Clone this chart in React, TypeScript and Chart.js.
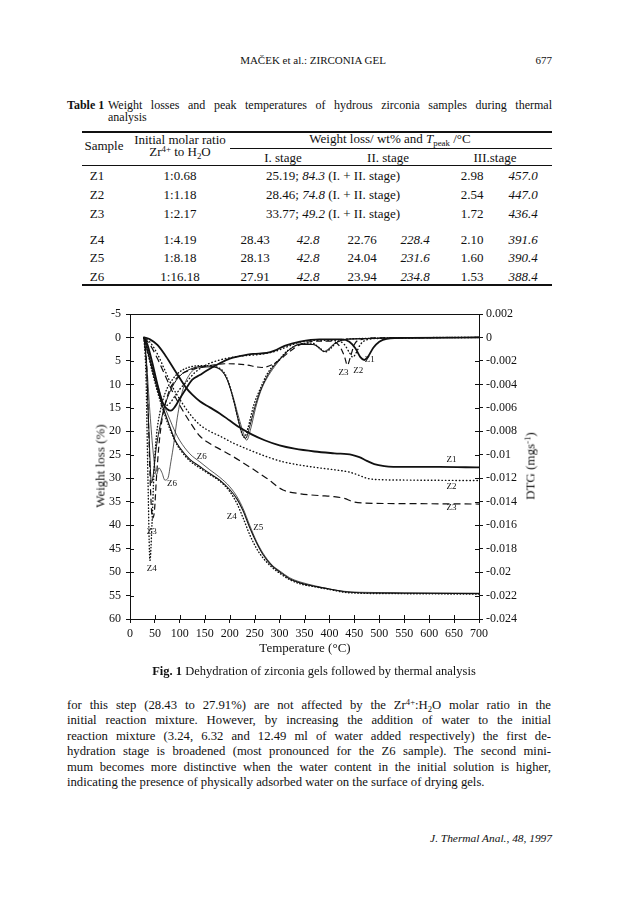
import React, { useEffect, useRef } from 'react';
import { Chart, registerables } from 'chart.js';
Chart.register(...registerables);

type Pt = [number, number];

const FONT = "'Liberation Serif', 'Times New Roman', Times, serif";
const INK = '#111111';

// ---- axis ranges ----
const T_MIN = 0, T_MAX = 700, T_STEP = 50;
const W_MIN = -5, W_MAX = 60, W_STEP = 5;
const D_MIN = -0.024, D_MAX = 0.002, D_STEP = 0.002;

// ---- TG curves: [temperature °C, weight loss %] ----
const Z1_TG: Pt[] = [[28,0],[40,0.4],[55,1.6],[70,3.7],[85,6.2],[100,8.7],[113,10.8],[125,12.2],[140,13.6],[160,14.9],[180,16.2],[200,17.7],[220,19.2],[245,20.7],[270,21.9],[300,23.0],[330,23.7],[370,24.3],[410,24.7],[445,25.0],[460,25.5],[475,26.3],[490,27.0],[510,27.4],[550,27.6],[620,27.6],[700,27.7]];
const Z2_TG: Pt[] = [[28,0],[40,1],[55,3.5],[70,7],[85,10.5],[100,13.2],[120,16.3],[140,18.6],[160,20],[180,21],[207,22.5],[240,24],[274,25.4],[307,26.5],[341,27.2],[380,27.8],[410,28.2],[440,28.7],[460,29.4],[475,30],[500,30.3],[560,30.4],[700,30.5]];
const Z3_TG: Pt[] = [[28,0],[40,1.5],[55,4.5],[70,8],[85,11.5],[100,14.5],[120,18],[140,21],[160,22.6],[180,23.8],[207,25.4],[240,27.6],[274,30],[307,32.5],[341,33.3],[380,33.7],[407,33.9],[430,34.3],[447,35],[470,35.3],[540,35.4],[700,35.5]];
const Z4_TG: Pt[] = [[28,0],[35,3],[45,7.5],[55,11.5],[65,15],[80,19.5],[90,22],[100,23.8],[120,26.3],[140,27.8],[160,29.2],[180,30.6],[200,32.8],[215,35.5],[227,38.5],[240,42],[254,45],[267,47],[285,49],[301,50.3],[320,51.6],[341,52.5],[374,53.2],[400,53.7],[430,54.3],[460,54.5],[550,54.6],[700,54.7]];
const Z5_TG: Pt[] = [[28,0],[35,2.8],[45,7],[55,11],[65,14.5],[80,19],[90,21.8],[100,23.5],[120,26],[140,27.5],[160,29],[180,30.4],[200,32.4],[215,34.5],[227,37],[240,40.5],[254,43.8],[267,46.3],[285,48.7],[301,50],[320,51.4],[341,52.3],[374,53.1],[400,53.6],[430,54.2],[460,54.4],[550,54.5],[700,54.6]];
const Z6_TG: Pt[] = [[28,0],[35,2.5],[45,6.5],[55,10],[65,13.5],[80,17.5],[90,20],[100,22],[120,24.8],[140,26.5],[160,28.2],[180,29.8],[200,31.8],[215,34],[227,36.5],[240,40],[254,43.5],[267,46],[285,48.5],[301,49.8],[320,51.2],[341,52.1],[374,53],[400,53.6],[430,54.1],[460,54.3],[550,54.4],[700,54.5]];

// ---- DTG curves: [temperature °C, DTG mg s^-1] ----
const Z1_DTG: Pt[] = [[28,0],[35,-0.0006],[45,-0.0022],[55,-0.004],[65,-0.00552],[75,-0.00612],[82,-0.00624],[90,-0.00592],[100,-0.0052],[113,-0.00432],[125,-0.0036],[140,-0.0032],[155,-0.0028],[180,-0.0022],[200,-0.0018],[220,-0.0016],[247,-0.0014],[274,-0.00132],[290,-0.00112],[310,-0.00072],[341,-0.00036],[380,-0.00016],[425,-0.00016],[440,-0.00036],[452,-0.00092],[462,-0.00168],[470,-0.00192],[478,-0.0016],[488,-0.00088],[500,-0.00036],[515,-0.00012],[560,-0.00004],[700,0]];
const Z2_DTG: Pt[] = [[28,0],[35,-0.0008],[45,-0.0026],[55,-0.0044],[65,-0.00552],[72,-0.0058],[80,-0.0056],[90,-0.005],[100,-0.0044],[113,-0.0038],[130,-0.003],[150,-0.0024],[180,-0.00192],[220,-0.0016],[260,-0.00144],[290,-0.0012],[315,-0.0008],[341,-0.0004],[380,-0.00024],[415,-0.00028],[430,-0.0006],[440,-0.00128],[447,-0.00168],[454,-0.00128],[462,-0.0006],[475,-0.0002],[500,-0.00008],[700,0]];
const Z3_DTG: Pt[] = [[28,0],[33,-0.002],[37,-0.0072],[41,-0.0128],[45,-0.0154],[49,-0.0148],[53,-0.012],[58,-0.0092],[65,-0.0068],[75,-0.005],[88,-0.0038],[100,-0.0032],[120,-0.0028],[150,-0.00248],[190,-0.00224],[230,-0.00232],[265,-0.00256],[285,-0.00232],[300,-0.00192],[320,-0.0012],[340,-0.00064],[370,-0.00032],[405,-0.00032],[420,-0.00072],[430,-0.0016],[436,-0.00236],[442,-0.00168],[450,-0.0006],[465,-0.00016],[500,-0.00004],[700,0]];
const Z4_DTG: Pt[] = [[28,0],[32,-0.0032],[36,-0.012],[40,-0.019],[44,-0.016],[48,-0.0116],[53,-0.0084],[60,-0.0064],[70,-0.0048],[85,-0.0036],[100,-0.00292],[120,-0.00252],[150,-0.0024],[180,-0.00264],[194,-0.0034],[207,-0.0052],[216,-0.0068],[224,-0.00812],[229,-0.00852],[236,-0.0078],[248,-0.0058],[261,-0.0044],[274,-0.0032],[287,-0.0024],[301,-0.0018],[314,-0.0012],[341,-0.00056],[365,-0.00048],[380,-0.00088],[392,-0.00124],[402,-0.00096],[415,-0.0004],[440,-0.00012],[700,0]];
const Z5_DTG: Pt[] = [[28,0],[33,-0.0024],[38,-0.008],[43,-0.0124],[47,-0.0116],[52,-0.0096],[60,-0.0076],[70,-0.0058],[85,-0.0042],[100,-0.00328],[120,-0.00272],[150,-0.00244],[180,-0.00272],[195,-0.0036],[208,-0.0054],[218,-0.0072],[226,-0.00832],[232,-0.0086],[240,-0.0076],[250,-0.006],[261,-0.0046],[274,-0.0034],[287,-0.00252],[301,-0.00184],[314,-0.00124],[341,-0.0006],[368,-0.0006],[382,-0.00096],[390,-0.0012],[398,-0.00104],[412,-0.00048],[440,-0.00012],[700,0]];
const Z6_DTG: Pt[] = [[28,0],[33,-0.002],[40,-0.0064],[47,-0.01],[53,-0.01172],[58,-0.01112],[64,-0.01152],[70,-0.01216],[76,-0.012],[82,-0.0106],[88,-0.009],[95,-0.0068],[105,-0.0046],[120,-0.00312],[140,-0.00256],[170,-0.00252],[190,-0.0032],[205,-0.0048],[218,-0.0068],[228,-0.0082],[234,-0.00876],[242,-0.0078],[252,-0.006],[262,-0.0046],[274,-0.00352],[290,-0.00248],[305,-0.00168],[320,-0.00104],[345,-0.00052],[370,-0.00064],[382,-0.00104],[388,-0.0012],[396,-0.00104],[410,-0.00052],[440,-0.00016],[700,0]];

// ---- in-plot curve labels: text, temperature, weight-loss axis value ----
const CURVE_LABEL_TEXT = ['Z1','Z3','Z2','Z1','Z2','Z3','Z6','Z6','Z4','Z5','Z3','Z4'];
const CURVE_LABEL_T = [481, 428, 458, 645, 645, 645, 144, 84, 204, 257, 43.5, 43.5];
const CURVE_LABEL_W = [4.8, 7.6, 7.1, 26.1, 31.8, 36.3, 25.4, 31.1, 38.1, 40.5, 41.4, 49.2];

// ---- table ----
const SAMPLES = ['Z1','Z2','Z3','Z4','Z5','Z6'];
const RATIOS = ['1:0.68','1:1.18','1:2.17','1:4.19','1:8.18','1:16.18'];
const COMBINED_LOSS = ['25.19','28.46','33.77'];
const COMBINED_T = ['84.3','74.8','49.2'];
const STAGE1_LOSS = ['28.43','28.13','27.91'];
const STAGE1_T = ['42.8','42.8','42.8'];
const STAGE2_LOSS = ['22.76','24.04','23.94'];
const STAGE2_T = ['228.4','231.6','234.8'];
const STAGE3_LOSS = ['2.98','2.54','1.72','2.10','1.60','1.53'];
const STAGE3_T = ['457.0','447.0','436.4','391.6','390.4','388.4'];

const PARAGRAPH = [
  'for this step (28.43 to 27.91%) are not affected by the Zr$:H#O molar ratio in the',
  'initial reaction mixture. However, by increasing the addition of water to the initial',
  'reaction mixture (3.24, 6.32 and 12.49 ml of water added respectively) the first de-',
  'hydration stage is broadened (most pronounced for the Z6 sample). The second mini-',
  'mum becomes more distinctive when the water content in the initial solution is higher,',
  'indicating the presence of physically adsorbed water on the surface of drying gels.',
];

const Sup = ({ children }: any) => (
  <span style={{ fontSize: '0.68em', verticalAlign: '0.5em', lineHeight: 0 }}>{children}</span>
);
const Sub = ({ children }: any) => (
  <span style={{ fontSize: '0.68em', verticalAlign: '-0.3em', lineHeight: 0 }}>{children}</span>
);

const Txt = ({ x, y, size = 11, align = 'left', style = {}, children }: any) => {
  const lh = Math.round(size * 1.25);
  const tf = align === 'center' ? 'translateX(-50%)' : align === 'right' ? 'translateX(-100%)' : 'none';
  return (
    <div style={{ position: 'absolute', left: x, top: y - lh / 2, fontSize: size, lineHeight: lh + 'px', whiteSpace: 'nowrap', transform: tf, ...style }}>
      {children}
    </div>
  );
};

const Just = ({ x, y, w, size = 13, last = false, children }: any) => {
  const lh = Math.round(size * 1.2);
  return (
    <div style={{ position: 'absolute', left: x, top: y - lh / 2, width: w, fontSize: size, lineHeight: lh + 'px', whiteSpace: 'nowrap', textAlign: 'justify', textAlignLast: last ? 'left' : 'justify' } as any}>
      {children}
    </div>
  );
};

const Rule = ({ x1, x2, y, h = 1 }: any) => (
  <div style={{ position: 'absolute', left: x1, top: y - h / 2, width: x2 - x1, height: h, background: INK }} />
);

const renderPara = (s: string) => {
  const parts: any[] = [];
  let buf = '';
  for (const ch of s) {
    if (ch === '$') { parts.push(buf); buf = ''; parts.push(<Sup key={parts.length}>4+</Sup>); }
    else if (ch === '#') { parts.push(buf); buf = ''; parts.push(<Sub key={parts.length}>2</Sub>); }
    else buf += ch;
  }
  parts.push(buf);
  return parts;
};

const TGChart = () => {
  const ref = useRef<HTMLCanvasElement>(null);
  useEffect(() => {
    const SERIES = [
      { pts: Z1_TG, axis: 'y', dash: [], width: 1.8 },
      { pts: Z2_TG, axis: 'y', dash: [0.5, 3], width: 1.4 },
      { pts: Z3_TG, axis: 'y', dash: [7, 4], width: 1.2 },
      { pts: Z4_TG, axis: 'y', dash: [0.5, 2.6], width: 1.4 },
      { pts: Z5_TG, axis: 'y', dash: [], width: 1.1 },
      { pts: Z6_TG, axis: 'y', dash: [], width: 0.7 },
      { pts: Z1_DTG, axis: 'y1', dash: [], width: 1.8 },
      { pts: Z2_DTG, axis: 'y1', dash: [0.5, 3], width: 1.4 },
      { pts: Z3_DTG, axis: 'y1', dash: [6, 3.5], width: 1.2 },
      { pts: Z4_DTG, axis: 'y1', dash: [0.5, 2.6], width: 1.4 },
      { pts: Z5_DTG, axis: 'y1', dash: [], width: 1.0 },
      { pts: Z6_DTG, axis: 'y1', dash: [], width: 0.7 },
    ];
    const frame = {
      id: 'frame',
      afterDraw(chart: any) {
        const { ctx, chartArea, scales } = chart;
        const { left, right, top, bottom } = chartArea;
        ctx.save();
        ctx.strokeStyle = INK;
        ctx.lineWidth = 1;
        ctx.beginPath();
        ctx.moveTo(left, top + 0.5);
        ctx.lineTo(right, top + 0.5);
        scales.x.ticks.forEach((t: any) => {
          const px = Math.round(scales.x.getPixelForValue(t.value)) + 0.5;
          ctx.moveTo(px, bottom); ctx.lineTo(px, bottom - 4);
        });
        scales.y.ticks.forEach((t: any) => {
          const py = Math.round(scales.y.getPixelForValue(t.value)) + 0.5;
          ctx.moveTo(left, py); ctx.lineTo(left + 4, py);
        });
        scales.y1.ticks.forEach((t: any) => {
          const py = Math.round(scales.y1.getPixelForValue(t.value)) + 0.5;
          ctx.moveTo(right, py); ctx.lineTo(right - 4, py);
        });
        ctx.stroke();
        ctx.restore();
      },
      afterDatasetsDraw(chart: any) {
        const { ctx, scales } = chart;
        ctx.save();
        ctx.fillStyle = INK;
        ctx.font = `9px ${FONT}`;
        ctx.textAlign = 'center';
        ctx.textBaseline = 'middle';
        CURVE_LABEL_TEXT.forEach((txt, i) => {
          ctx.fillText(txt, scales.x.getPixelForValue(CURVE_LABEL_T[i]), scales.y.getPixelForValue(CURVE_LABEL_W[i]));
        });
        ctx.restore();
      },
    };
    const tickFont = { family: FONT, size: 12 };
    const chart = new Chart(ref.current as HTMLCanvasElement, {
      type: 'line',
      data: {
        datasets: SERIES.map((s) => ({
          data: s.pts.map(([x, y]) => ({ x, y })),
          yAxisID: s.axis,
          borderColor: INK,
          borderWidth: s.width,
          borderDash: s.dash,
          borderCapStyle: s.dash.length && s.dash[0] < 1 ? 'round' : 'butt',
          pointRadius: 0,
          fill: false,
          cubicInterpolationMode: 'monotone',
        })) as any,
      },
      options: {
        animation: false,
        responsive: false,
        events: [],
        layout: { padding: { top: 14, left: 0, right: 0, bottom: 0 } },
        plugins: { legend: { display: false }, tooltip: { enabled: false } },
        scales: {
          x: {
            type: 'linear', min: T_MIN, max: T_MAX,
            ticks: { stepSize: T_STEP, autoSkip: false, maxRotation: 0, color: INK, font: tickFont, padding: 4 },
            grid: { drawOnChartArea: false, tickLength: 4, color: INK },
            border: { color: INK, width: 1 },
            afterFit: (s: any) => { s.height = 26; },
          },
          y: {
            type: 'linear', position: 'left', reverse: true, min: W_MIN, max: W_MAX,
            ticks: { stepSize: W_STEP, autoSkip: false, color: INK, font: tickFont, padding: 5 },
            grid: { drawOnChartArea: false, tickLength: 4, color: INK },
            border: { color: INK, width: 1 },
            afterFit: (s: any) => { s.width = 70; },
          },
          y1: {
            type: 'linear', position: 'right', min: D_MIN, max: D_MAX,
            ticks: {
              stepSize: D_STEP, autoSkip: false, color: INK, font: tickFont, padding: 3,
              callback: (v: any) => String(+Number(v).toFixed(3)),
            },
            grid: { drawOnChartArea: false, tickLength: 4, color: INK },
            border: { color: INK, width: 1 },
            afterFit: (s: any) => { s.width = 60; },
          },
        },
      } as any,
      plugins: [frame],
    });
    return () => chart.destroy();
  }, []);
  return <canvas ref={ref} width={479} height={345} style={{ position: 'absolute', left: 60, top: 300, width: 479, height: 345 }} />;
};

export default function App() {
  const rowsY = [176, 195, 214, 239.5, 258, 276.5];
  const TS = 13;
  return (
    <div style={{ position: 'relative', width: 624, height: 903, background: '#fff', color: INK, fontFamily: FONT, overflow: 'hidden' }}>
      <style>{'body{margin:0;background:#fff}'}</style>

      {/* running head */}
      <Txt x={313} y={60} size={11} align="center">MAČEK et al.: ZIRCONIA GEL</Txt>
      <Txt x={552} y={60} size={11} align="right">677</Txt>

      {/* table caption */}
      <Txt x={67} y={105} size={12}><b>Table 1</b></Txt>
      <Just x={108} y={105} w={444} size={12}>Weight losses and peak temperatures of hydrous zirconia samples during thermal</Just>
      <Txt x={108} y={117.5} size={12}>analysis</Txt>

      {/* table */}
      <Rule x1={82} x2={552} y={132} h={1.3} />
      <Txt x={104} y={146} size={TS} align="center">Sample</Txt>
      <Txt x={180} y={140} size={TS} align="center">Initial molar ratio</Txt>
      <Txt x={180} y={152} size={TS} align="center">Zr<Sup>4+</Sup> to H<Sub>2</Sub>O</Txt>
      <Txt x={390} y={138.5} size={TS} align="center">Weight loss/ wt% and <i>T</i><Sub>peak</Sub> /°C</Txt>
      <Rule x1={230} x2={552} y={148} h={0.8} />
      <Txt x={283} y={157.5} size={TS} align="center">I. stage</Txt>
      <Txt x={388} y={157.5} size={TS} align="center">II. stage</Txt>
      <Txt x={495} y={157.5} size={TS} align="center">III.stage</Txt>
      <Rule x1={82} x2={552} y={165.5} h={1} />
      {SAMPLES.map((s, i) => (
        <React.Fragment key={s}>
          <Txt x={97} y={rowsY[i]} size={TS} align="center">{s}</Txt>
          <Txt x={180} y={rowsY[i]} size={TS} align="center">{RATIOS[i]}</Txt>
          {i < 3 ? (
            <Txt x={266} y={rowsY[i]} size={TS}>{COMBINED_LOSS[i]}; <i>{COMBINED_T[i]}</i> (I. + II. stage)</Txt>
          ) : (
            <>
              <Txt x={255} y={rowsY[i]} size={TS} align="center">{STAGE1_LOSS[i - 3]}</Txt>
              <Txt x={308} y={rowsY[i]} size={TS} align="center"><i>{STAGE1_T[i - 3]}</i></Txt>
              <Txt x={362} y={rowsY[i]} size={TS} align="center">{STAGE2_LOSS[i - 3]}</Txt>
              <Txt x={415} y={rowsY[i]} size={TS} align="center"><i>{STAGE2_T[i - 3]}</i></Txt>
            </>
          )}
          <Txt x={472} y={rowsY[i]} size={TS} align="center">{STAGE3_LOSS[i]}</Txt>
          <Txt x={523} y={rowsY[i]} size={TS} align="center"><i>{STAGE3_T[i]}</i></Txt>
        </React.Fragment>
      ))}
      <Rule x1={82} x2={552} y={285} h={1.2} />

      {/* chart */}
      <TGChart />
      <div style={{ position: 'absolute', left: 100, top: 466, transform: 'translate(-50%,-50%) rotate(-90deg)', fontSize: 13, whiteSpace: 'nowrap', lineHeight: '15px' }}>Weight loss (%)</div>
      <div style={{ position: 'absolute', left: 530, top: 466, transform: 'translate(-50%,-50%) rotate(-90deg)', fontSize: 13, whiteSpace: 'nowrap', lineHeight: '15px' }}>DTG (mgs<Sup>-1</Sup>)</div>
      <Txt x={305} y={648} size={13} align="center">Temperature (°C)</Txt>

      {/* figure caption */}
      <Txt x={314} y={671} size={12.5} align="center"><b>Fig. 1</b> Dehydration of zirconia gels followed by thermal analysis</Txt>

      {/* body text */}
      {PARAGRAPH.map((line, i) => (
        <Just key={i} x={67} y={705 + i * 15.5} w={484} size={12.7} last={i === PARAGRAPH.length - 1}>{renderPara(line)}</Just>
      ))}

      {/* footer */}
      <Txt x={552} y={838} size={11.4} align="right"><i>J. Thermal Anal., 48, 1997</i></Txt>
    </div>
  );
}
